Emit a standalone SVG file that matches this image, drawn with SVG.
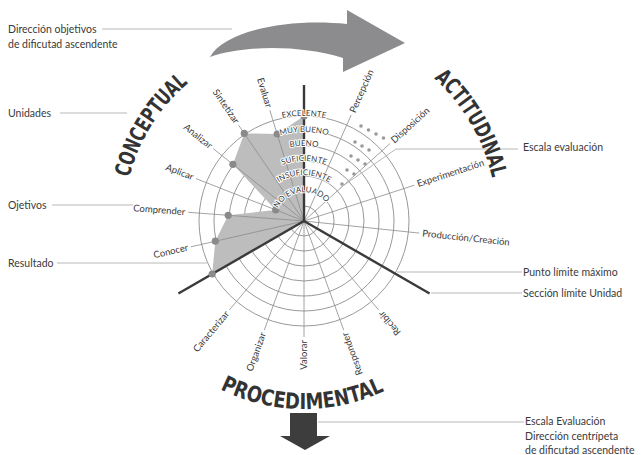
<svg xmlns="http://www.w3.org/2000/svg" width="643" height="455" viewBox="0 0 643 455">
<style>
  .ring{fill:none;stroke:#8c8c8c;stroke-width:0.9}
  .spoke{stroke:#8c8c8c;stroke-width:0.8}
  .axis{stroke:#3a3a3a;stroke-width:2.4}
  .lead{stroke:#b8b8b8;stroke-width:1;fill:none}
  .lbl{font-family:Lato,"Open Sans",sans-serif;font-size:9.5px;fill:#3a3a3a}
  .side{font-family:Lato,"Open Sans",sans-serif;font-size:10.5px;fill:#3a3a3a}
  .scale{font-family:Lato,"Open Sans",sans-serif;font-size:8px;fill:#3a3a3a;stroke:#ffffff;stroke-width:2;stroke-linejoin:round;paint-order:stroke}
  .big{font-family:"Liberation Sans Narrow","DejaVu Sans Condensed",sans-serif;font-weight:bold;font-size:22px;fill:#333}
  .vtx{fill:#8a8a8a}
  .pt{fill:#9a9a9a}
</style>
<defs>
  <path id="arcConceptual" d="M124.1,214.7 A180,180 0 0 1 219.5,62.1"/>
  <path id="arcActitudinal" d="M399.6,53.3 A193,193 0 0 1 497,220"/>
  <path id="arcProcedimental" d="M208.3,382.8 A188,188 0 0 0 396.3,384.8"/>
  <path id="lv6" d="M213,168.5 A105,105 0 0 1 395,168.5"/>
  <path id="lv5" d="M226.9,176.5 A89,89 0 0 1 381.1,176.5"/>
  <path id="lv4" d="M239,183.5 A75,75 0 0 1 369,183.5"/>
  <path id="lv3" d="M252,191 A60,60 0 0 1 356,191"/>
  <path id="lv2" d="M264.2,198 A46,46 0 0 1 343.8,198"/>
  <path id="lv1" d="M275,221 A29,29 0 0 1 332.1,214"/>
</defs>

<!-- direction arrow over the top -->
<g id="arrow-top">
  <path d="M210,57 C225,30 290,18 347,24 L347,10 L405,43 L343,72 L343,58 C300,45 245,45 210,57 Z" fill="#8c8c8e"/>
</g>

<!-- radar grid -->
<g id="grid">
  <circle class="ring" cx="304" cy="221" r="15"/>
  <circle class="ring" cx="304" cy="221" r="30"/>
  <circle class="ring" cx="304" cy="221" r="45"/>
  <circle class="ring" cx="304" cy="221" r="60"/>
  <circle class="ring" cx="304" cy="221" r="75"/>
  <circle class="ring" cx="304" cy="221" r="90"/>
  <circle class="ring" cx="304" cy="221" r="105"/>
</g>

<!-- result area -->
<g id="result-area">
  <polygon points="304,116 277.2,134 244.3,133.4 232.9,164.3 275.7,209.9 228.2,215.3 215.3,241.2 212.2,274 304,221" fill="#bdbdbd"/>
</g>

<!-- spokes, section limits and leader lines -->
<g id="connectors">
  <g class="spoke">
    <line x1="304" y1="221" x2="269.8" y2="110.2"/>
    <line x1="304" y1="221" x2="238.6" y2="125.2"/>
    <line x1="304" y1="221" x2="213.3" y2="148.7"/>
    <line x1="304" y1="221" x2="196" y2="178.6"/>
    <line x1="304" y1="221" x2="188.3" y2="212.3"/>
    <line x1="304" y1="221" x2="190.9" y2="246.8"/>
    <line x1="304" y1="221" x2="351.2" y2="115"/>
    <line x1="304" y1="221" x2="390.2" y2="143.4"/>
    <line x1="304" y1="221" x2="414.3" y2="185.2"/>
    <line x1="304" y1="221" x2="419.4" y2="233.1"/>
    <line x1="304" y1="221" x2="229.4" y2="309.9"/>
    <line x1="304" y1="221" x2="264.3" y2="330"/>
    <line x1="304" y1="221" x2="304" y2="337"/>
    <line x1="304" y1="221" x2="343.7" y2="330"/>
    <line x1="304" y1="221" x2="378.6" y2="309.9"/>
  </g>
  <g class="axis">
    <line x1="304" y1="221" x2="304" y2="85"/>
    <line x1="304" y1="221" x2="178.4" y2="293.5"/>
    <line x1="304" y1="221" x2="429.6" y2="293.5"/>
  </g>
  <g class="lead">
    <line x1="102" y1="29" x2="232" y2="29"/>
    <line x1="60" y1="113" x2="127" y2="113"/>
    <line x1="52" y1="205" x2="133" y2="205"/>
    <line x1="57" y1="263" x2="207" y2="263"/>
    <polyline points="340,188 396,149 518,149"/>
    <line x1="397" y1="272" x2="522" y2="272"/>
    <line x1="431" y1="293" x2="522" y2="293"/>
    <line x1="318" y1="422" x2="524" y2="422"/>
  </g>
</g>

<!-- vertices of the result area -->
<g id="vertices">
  <circle class="vtx" cx="304" cy="116" r="3.6"/>
  <circle class="vtx" cx="277.2" cy="134" r="3.6"/>
  <circle class="vtx" cx="244.3" cy="133.4" r="3.6"/>
  <circle class="vtx" cx="232.9" cy="164.3" r="3.6"/>
  <circle class="vtx" cx="275.7" cy="209.9" r="3.6"/>
  <circle class="vtx" cx="228.2" cy="215.3" r="3.6"/>
  <circle class="vtx" cx="215.3" cy="241.2" r="3.6"/>
  <circle class="vtx" cx="212.2" cy="274" r="3.6"/>
</g>

<!-- evaluation scale dots -->
<g id="scale-dots">
  <circle class="pt" cx="361" cy="126" r="1.8"/>
  <circle class="pt" cx="368.5" cy="130" r="1.8"/>
  <circle class="pt" cx="376" cy="134" r="1.8"/>
  <circle class="pt" cx="383.5" cy="138" r="1.8"/>
  <circle class="pt" cx="355" cy="142" r="1.8"/>
  <circle class="pt" cx="362" cy="146" r="1.8"/>
  <circle class="pt" cx="369" cy="150" r="1.8"/>
  <circle class="pt" cx="351" cy="156" r="1.8"/>
  <circle class="pt" cx="358" cy="160" r="1.8"/>
  <circle class="pt" cx="365" cy="164" r="1.8"/>
  <circle class="pt" cx="347" cy="170" r="1.8"/>
  <circle class="pt" cx="354" cy="174" r="1.8"/>
  <circle class="pt" cx="342" cy="184" r="1.8"/>
</g>

<!-- scale level labels -->
<g id="levels" class="scale" text-anchor="middle">
  <text><textPath href="#lv6" startOffset="50%">EXCELENTE</textPath></text>
  <text><textPath href="#lv5" startOffset="50%">MUY BUENO</textPath></text>
  <text><textPath href="#lv4" startOffset="50%">BUENO</textPath></text>
  <text><textPath href="#lv3" startOffset="50%">SUFICIENTE</textPath></text>
  <text><textPath href="#lv2" startOffset="50%">INSUFICIENTE</textPath></text>
  <text><textPath href="#lv1" startOffset="50%">NO EVALUADO</textPath></text>
</g>

<!-- domain titles -->
<g id="conceptual">
  <text class="big" text-anchor="middle"><textPath href="#arcConceptual" startOffset="50%" textLength="113" lengthAdjust="spacingAndGlyphs">CONCEPTUAL</textPath></text>
</g>
<g id="actitudinal">
  <text class="big" text-anchor="middle"><textPath href="#arcActitudinal" startOffset="50%" textLength="117" lengthAdjust="spacingAndGlyphs">ACTITUDINAL</textPath></text>
</g>
<g id="procedimental">
  <text class="big" text-anchor="middle"><textPath href="#arcProcedimental" startOffset="50%" textLength="170" lengthAdjust="spacingAndGlyphs">PROCEDIMENTAL</textPath></text>
</g>

<!-- spoke labels -->
<g id="lbl-evaluar"><text class="lbl" text-anchor="end" dy=".32em" transform="translate(268.9,107.3) rotate(72.86)">Evaluar</text></g>
<g id="lbl-sintetizar"><text class="lbl" text-anchor="end" dy=".32em" transform="translate(237,122.7) rotate(55.71)">Sintetizar</text></g>
<g id="lbl-analizar"><text class="lbl" text-anchor="end" dy=".32em" transform="translate(211,146.8) rotate(38.57)">Analizar</text></g>
<g id="lbl-aplicar"><text class="lbl" text-anchor="end" dy=".32em" transform="translate(193.2,177.5) rotate(21.43)">Aplicar</text></g>
<g id="lbl-comprender"><text class="lbl" text-anchor="end" dy=".32em" transform="translate(185.3,212.1) rotate(4.29)">Comprender</text></g>
<g id="lbl-conocer"><text class="lbl" text-anchor="end" dy=".32em" transform="translate(188,247.5) rotate(-12.86)">Conocer</text></g>
<g id="lbl-percepcion"><text class="lbl" dy=".32em" transform="translate(352.4,112.3) rotate(-66)">Percepción</text></g>
<g id="lbl-disposicion"><text class="lbl" dy=".32em" transform="translate(392.4,141.4) rotate(-42)">Disposición</text></g>
<g id="lbl-experimentacion"><text class="lbl" dy=".32em" transform="translate(417.2,184.2) rotate(-18)">Experimentación</text></g>
<g id="lbl-produccion"><text class="lbl" dy=".32em" transform="translate(422.3,233.4) rotate(6)">Producción/Creación</text></g>
<g id="lbl-caracterizar"><text class="lbl" text-anchor="end" dy=".32em" transform="translate(227.5,312.2) rotate(-50)">Caracterizar</text></g>
<g id="lbl-organizar"><text class="lbl" text-anchor="end" dy=".32em" transform="translate(263.3,332.8) rotate(-70)">Organizar</text></g>
<g id="lbl-valorar"><text class="lbl" text-anchor="end" dy=".32em" transform="translate(304,340) rotate(-90)">Valorar</text></g>
<g id="lbl-responder"><text class="lbl" text-anchor="end" dy=".32em" transform="translate(344.7,332.8) rotate(-110)">Responder</text></g>
<g id="lbl-recibir"><text class="lbl" text-anchor="end" dy=".32em" transform="translate(380.5,312.2) rotate(-130)">Recibir</text></g>

<!-- side notes -->
<g id="note-direccion"><text class="side" x="8" y="33">Dirección objetivos</text><text class="side" x="8" y="48">de dificutad ascendente</text></g>
<g id="note-unidades"><text class="side" x="8" y="117">Unidades</text></g>
<g id="note-objetivos"><text class="side" x="8" y="209">Ojetivos</text></g>
<g id="note-resultado"><text class="side" x="8" y="267">Resultado</text></g>
<g id="note-escala"><text class="side" x="523" y="151">Escala evaluación</text></g>
<g id="note-punto"><text class="side" x="523" y="276">Punto límite máximo</text></g>
<g id="note-seccion"><text class="side" x="523" y="297">Sección límite Unidad</text></g>
<g id="note-centripeta"><text class="side" x="525" y="425">Escala Evaluación</text><text class="side" x="525" y="440">Dirección centrípeta</text><text class="side" x="525" y="454">de dificutad ascendente</text></g>

<!-- centripetal arrow -->
<g id="arrow-down">
  <path d="M290,413 H317 V436 H330 L305,450 L280,436 H290 Z" fill="#3d3d3d"/>
</g>
</svg>
